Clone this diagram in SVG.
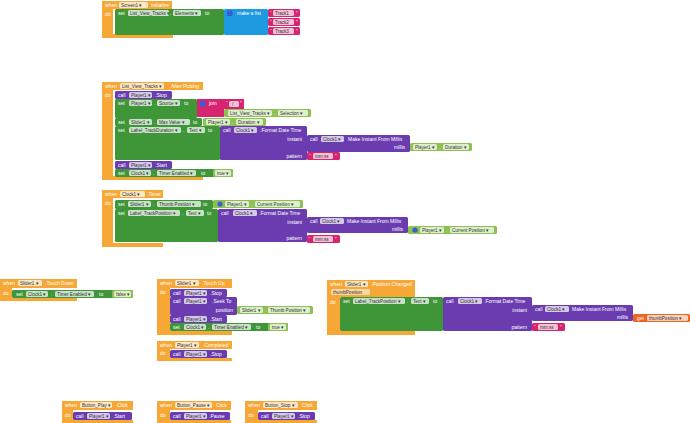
<svg xmlns="http://www.w3.org/2000/svg" width="690" height="423" viewBox="0 0 690 423">
<style>
.ev{fill:#F6A735}
.set{fill:#3E9638}
.get{fill:#8DC152}
.call{fill:#6A3CB0}
.txt{fill:#D62470}
.lst{fill:#1E9AE0}
.lv{fill:#F0641E}
.fld{fill:#fff;fill-opacity:.72}
.fo{fill:#FBD9A6}
.t{font-family:"Liberation Sans",Arial,sans-serif;font-size:5px;fill:#fff}
.f{font-family:"Liberation Sans",Arial,sans-serif;font-size:4.6px;fill:#333}
.r{text-anchor:end}
.ic{fill:#3D5AD8}
</style>
<rect width="690" height="423" fill="#fff"/>
<g id="connectors"/>

<g id="screen1-initialize">
<path class="ev" d="M102,1 H172 V9 H113 V34 H173 V38 H102 Z"/>
<text class="t" x="105" y="7">when</text>
<rect class="fld" x="119" y="2" width="29" height="6" rx="1.5"/><text class="f" x="121" y="6.8">Screen1 ▾</text>
<text class="t" x="151" y="7">Initialize</text>
<text class="t" x="105" y="16">do</text>
<rect class="set" x="115" y="9" width="109" height="26" rx="1.5"/>
<text class="t" x="118" y="15">set</text>
<rect class="fld" x="128" y="10" width="41" height="6" rx="1.5"/><text class="f" x="130" y="14.8">List_View_Tracks ▾</text>
<text class="t" x="170" y="15">.</text>
<rect class="fld" x="173" y="10" width="28" height="6" rx="1.5"/><text class="f" x="175" y="14.8">Elements ▾</text>
<text class="t" x="205" y="15">to</text>
<rect class="lst" x="224" y="9" width="44" height="26" rx="1.5"/>
<rect class="ic" x="227" y="10.5" width="5.5" height="5.5" rx="1"/>
<text class="t" x="237" y="15">make a list</text>
<rect class="txt" x="268" y="9" width="32" height="8" rx="1.5"/>
<text class="t" x="270" y="14.5">“</text><rect class="fld" x="273" y="10" width="21" height="6" rx="1.5"/><text class="f" x="275" y="14.8">Track1</text><text class="t" x="296" y="14.5">”</text>
<rect class="txt" x="268" y="18" width="32" height="8" rx="1.5"/>
<text class="t" x="270" y="23.5">“</text><rect class="fld" x="273" y="19" width="21" height="6" rx="1.5"/><text class="f" x="275" y="23.8">Track2</text><text class="t" x="296" y="23.5">”</text>
<rect class="txt" x="268" y="27" width="32" height="8" rx="1.5"/>
<text class="t" x="270" y="32.5">“</text><rect class="fld" x="273" y="28" width="21" height="6" rx="1.5"/><text class="f" x="275" y="32.8">Track3</text><text class="t" x="296" y="32.5">”</text>
</g>

<g id="list-view-after-picking">
<path class="ev" d="M102,82 H203 V90 H113 V176 H203 V180 H102 Z"/>
<text class="t" x="105" y="88">when</text>
<rect class="fld" x="120" y="83" width="44" height="6" rx="1.5"/><text class="f" x="122" y="87.8">List_View_Tracks ▾</text>
<text class="t" x="171" y="88">After Picking</text>
<text class="t" x="105" y="97">do</text>
<rect class="call" x="115" y="91" width="57" height="8" rx="1.5"/>
<text class="t" x="118" y="97">call</text>
<rect class="fld" x="129" y="92" width="23" height="6" rx="1.5"/><text class="f" x="131" y="96.8">Player1 ▾</text>
<text class="t" x="155" y="97">.Stop</text>
<rect class="set" x="115" y="99" width="82" height="19" rx="1.5"/>
<text class="t" x="118" y="105">set</text>
<rect class="fld" x="129" y="100" width="23" height="6" rx="1.5"/><text class="f" x="131" y="104.8">Player1 ▾</text>
<text class="t" x="154" y="105">.</text>
<rect class="fld" x="157" y="100" width="23" height="6" rx="1.5"/><text class="f" x="159" y="104.8">Source ▾</text>
<text class="t" x="184" y="105">to</text>
<path class="txt" d="M197,99 H244 V109 H224 V117 H197 Z"/>
<rect class="ic" x="200" y="101" width="5.5" height="5.5" rx="1"/>
<text class="t" x="209" y="105">join</text>
<text class="t" x="226" y="105">“</text><rect class="fld" x="229" y="101" width="10" height="6" rx="1.5"/><text class="f" x="232" y="105.8">/</text><text class="t" x="240" y="105">”</text>
<rect class="get" x="224" y="109" width="87" height="8" rx="1.5"/>
<rect class="fld" x="228" y="110" width="44" height="6" rx="1.5"/><text class="f" x="230" y="114.8">List_View_Tracks ▾</text>
<text class="t" x="274" y="115">.</text>
<rect class="fld" x="278" y="110" width="30" height="6" rx="1.5"/><text class="f" x="280" y="114.8">Selection ▾</text>
<rect class="set" x="115" y="118" width="87" height="8" rx="1.5"/>
<text class="t" x="118" y="124">set</text>
<rect class="fld" x="129" y="119" width="23" height="6" rx="1.5"/><text class="f" x="131" y="123.8">Slider1 ▾</text>
<text class="t" x="154" y="124">.</text>
<rect class="fld" x="157" y="119" width="33" height="6" rx="1.5"/><text class="f" x="159" y="123.8">Max Value ▾</text>
<text class="t" x="193" y="124">to</text>
<rect class="get" x="203" y="118" width="63" height="8" rx="1.5"/>
<rect class="fld" x="206" y="119" width="24" height="6" rx="1.5"/><text class="f" x="208" y="123.8">Player1 ▾</text>
<text class="t" x="232" y="124">.</text>
<rect class="fld" x="236" y="119" width="27" height="6" rx="1.5"/><text class="f" x="238" y="123.8">Duration ▾</text>
<rect class="set" x="115" y="126" width="105" height="34" rx="1.5"/>
<text class="t" x="118" y="132">set</text>
<rect class="fld" x="129" y="127" width="52" height="6" rx="1.5"/><text class="f" x="131" y="131.8">Label_TrackDuration ▾</text>
<text class="t" x="183" y="132">.</text>
<rect class="fld" x="187" y="127" width="18" height="6" rx="1.5"/><text class="f" x="189" y="131.8">Text ▾</text>
<text class="t" x="208" y="132">to</text>
<rect class="call" x="220" y="126" width="87" height="34" rx="1.5"/>
<text class="t" x="223" y="132">call</text>
<rect class="fld" x="234" y="127" width="23" height="6" rx="1.5"/><text class="f" x="236" y="131.8">Clock1 ▾</text>
<text class="t" x="260" y="132">.Format Date Time</text>
<text class="t r" x="302" y="141">instant</text>
<text class="t r" x="302" y="158">pattern</text>
<rect class="call" x="307" y="135" width="103" height="17" rx="1.5"/>
<text class="t" x="310" y="141">call</text>
<rect class="fld" x="321" y="136" width="23" height="6" rx="1.5"/><text class="f" x="323" y="140.8">Clock1 ▾</text>
<text class="t" x="348" y="141">Make Instant From Millis</text>
<text class="t r" x="405" y="149">millis</text>
<rect class="get" x="410" y="143" width="62" height="8" rx="1.5"/>
<rect class="fld" x="413" y="144" width="24" height="6" rx="1.5"/><text class="f" x="415" y="148.8">Player1 ▾</text>
<text class="t" x="439" y="149">.</text>
<rect class="fld" x="443" y="144" width="26" height="6" rx="1.5"/><text class="f" x="445" y="148.8">Duration ▾</text>
<rect class="txt" x="307" y="152" width="33" height="8" rx="1.5"/>
<text class="t" x="309" y="157.5">“</text><rect class="fld" x="313" y="153" width="20" height="6" rx="1.5"/><text class="f" x="315" y="157.8">mm:ss</text><text class="t" x="335" y="157.5">”</text>
<rect class="call" x="115" y="161" width="57" height="8" rx="1.5"/>
<text class="t" x="118" y="167">call</text>
<rect class="fld" x="129" y="162" width="23" height="6" rx="1.5"/><text class="f" x="131" y="166.8">Player1 ▾</text>
<text class="t" x="155" y="167">.Start</text>
<rect class="set" x="115" y="169" width="118" height="8" rx="1.5"/>
<text class="t" x="118" y="175">set</text>
<rect class="fld" x="129" y="170" width="22" height="6" rx="1.5"/><text class="f" x="131" y="174.8">Clock1 ▾</text>
<text class="t" x="153" y="175">.</text>
<rect class="fld" x="157" y="170" width="39" height="6" rx="1.5"/><text class="f" x="159" y="174.8">Timer Enabled ▾</text>
<text class="t" x="201" y="175">to</text>
<rect class="get" x="213" y="169" width="20" height="8" rx="1.5"/>
<rect class="fld" x="215" y="170" width="16" height="6" rx="1.5"/><text class="f" x="217" y="174.8">true ▾</text>
</g>

<g id="clock1-timer">
<path class="ev" d="M102,190 H163 V198 H113 V243 H163 V247 H102 Z"/>
<text class="t" x="105" y="196">when</text>
<rect class="fld" x="120" y="191" width="25" height="6" rx="1.5"/><text class="f" x="122" y="195.8">Clock1 ▾</text>
<text class="t" x="147" y="196">.Timer</text>
<text class="t" x="105" y="205">do</text>
<rect class="set" x="115" y="200" width="98" height="9" rx="1.5"/>
<text class="t" x="118" y="206">set</text>
<rect class="fld" x="128" y="201" width="23" height="6" rx="1.5"/><text class="f" x="130" y="205.8">Slider1 ▾</text>
<text class="t" x="153" y="206">.</text>
<rect class="fld" x="157" y="201" width="44" height="6" rx="1.5"/><text class="f" x="159" y="205.8">Thumb Position ▾</text>
<text class="t" x="203" y="206">to</text>
<rect class="get" x="213" y="200" width="90" height="8" rx="1.5"/>
<circle class="ic" cx="220" cy="204" r="2.6"/>
<rect class="fld" x="225" y="201" width="24" height="6" rx="1.5"/><text class="f" x="227" y="205.8">Player1 ▾</text>
<text class="t" x="251" y="206">.</text>
<rect class="fld" x="255" y="201" width="45" height="6" rx="1.5"/><text class="f" x="257" y="205.8">Current Position ▾</text>
<rect class="set" x="115" y="209" width="103" height="33" rx="1.5"/>
<text class="t" x="118" y="215">set</text>
<rect class="fld" x="128" y="210" width="52" height="6" rx="1.5"/><text class="f" x="130" y="214.8">Label_TrackPosition ▾</text>
<text class="t" x="182" y="215">.</text>
<rect class="fld" x="186" y="210" width="18" height="6" rx="1.5"/><text class="f" x="188" y="214.8">Text ▾</text>
<text class="t" x="207" y="215">to</text>
<rect class="call" x="218" y="209" width="89" height="33" rx="1.5"/>
<text class="t" x="221" y="215">call</text>
<rect class="fld" x="233" y="210" width="24" height="6" rx="1.5"/><text class="f" x="235" y="214.8">Clock1 ▾</text>
<text class="t" x="259" y="215">.Format Date Time</text>
<text class="t r" x="302" y="224">instant</text>
<text class="t r" x="302" y="240">pattern</text>
<rect class="call" x="307" y="217" width="101" height="16" rx="1.5"/>
<text class="t" x="310" y="223">call</text>
<rect class="fld" x="320" y="218" width="24" height="6" rx="1.5"/><text class="f" x="322" y="222.8">Clock1 ▾</text>
<text class="t" x="347" y="223">Make Instant From Millis</text>
<text class="t r" x="403" y="231">millis</text>
<rect class="get" x="408" y="226" width="89" height="8" rx="1.5"/>
<circle class="ic" cx="415" cy="230" r="2.6"/>
<rect class="fld" x="420" y="227" width="24" height="6" rx="1.5"/><text class="f" x="422" y="231.8">Player1 ▾</text>
<text class="t" x="446" y="232">.</text>
<rect class="fld" x="450" y="227" width="44" height="6" rx="1.5"/><text class="f" x="452" y="231.8">Current Position ▾</text>
<rect class="txt" x="307" y="235" width="33" height="8" rx="1.5"/>
<text class="t" x="309" y="240.5">“</text><rect class="fld" x="313" y="236" width="20" height="6" rx="1.5"/><text class="f" x="315" y="240.8">mm:ss</text><text class="t" x="335" y="240.5">”</text>
</g>

<g id="slider1-touch-down">
<path class="ev" d="M0,279 H77 V288 H12 V298 H77 V301 H0 Z"/>
<text class="t" x="3" y="285">when</text>
<rect class="fld" x="18" y="280" width="24" height="6" rx="1.5"/><text class="f" x="20" y="284.8">Slider1 ▾</text>
<text class="t" x="45" y="285">.Touch Down</text>
<text class="t" x="3" y="295">do</text>
<rect class="set" x="12" y="290" width="121" height="8" rx="1.5"/>
<text class="t" x="16" y="296">set</text>
<rect class="fld" x="26" y="291" width="22" height="6" rx="1.5"/><text class="f" x="28" y="295.8">Clock1 ▾</text>
<text class="t" x="51" y="296">.</text>
<rect class="fld" x="55" y="291" width="39" height="6" rx="1.5"/><text class="f" x="57" y="295.8">Timer Enabled ▾</text>
<text class="t" x="99" y="296">to</text>
<rect class="get" x="112" y="290" width="21" height="8" rx="1.5"/>
<rect class="fld" x="114" y="291" width="17" height="6" rx="1.5"/><text class="f" x="116" y="295.8">false ▾</text>
</g>

<g id="slider1-touch-up">
<path class="ev" d="M157,279 H232 V288 H170 V331 H232 V335 H157 Z"/>
<text class="t" x="160" y="285">when</text>
<rect class="fld" x="175" y="280" width="24" height="6" rx="1.5"/><text class="f" x="177" y="284.8">Slider1 ▾</text>
<text class="t" x="202" y="285">.Touch Up</text>
<text class="t" x="160" y="294">do</text>
<rect class="call" x="170" y="289" width="57" height="8" rx="1.5"/>
<text class="t" x="173" y="295">call</text>
<rect class="fld" x="184" y="290" width="23" height="6" rx="1.5"/><text class="f" x="186" y="294.8">Player1 ▾</text>
<text class="t" x="210" y="295">.Stop</text>
<rect class="call" x="170" y="297" width="67" height="18" rx="1.5"/>
<text class="t" x="173" y="303">call</text>
<rect class="fld" x="184" y="298" width="23" height="6" rx="1.5"/><text class="f" x="186" y="302.8">Player1 ▾</text>
<text class="t" x="212" y="303">.Seek To</text>
<text class="t r" x="233" y="312">position</text>
<rect class="get" x="237" y="306" width="76" height="8" rx="1.5"/>
<rect class="fld" x="240" y="307" width="23" height="6" rx="1.5"/><text class="f" x="242" y="311.8">Slider1 ▾</text>
<text class="t" x="265" y="312">.</text>
<rect class="fld" x="268" y="307" width="42" height="6" rx="1.5"/><text class="f" x="270" y="311.8">Thumb Position ▾</text>
<rect class="call" x="170" y="315" width="57" height="8" rx="1.5"/>
<text class="t" x="173" y="321">call</text>
<rect class="fld" x="184" y="316" width="23" height="6" rx="1.5"/><text class="f" x="186" y="320.8">Player1 ▾</text>
<text class="t" x="210" y="321">.Start</text>
<rect class="set" x="170" y="323" width="118" height="8" rx="1.5"/>
<text class="t" x="173" y="329">set</text>
<rect class="fld" x="184" y="324" width="22" height="6" rx="1.5"/><text class="f" x="186" y="328.8">Clock1 ▾</text>
<text class="t" x="208" y="329">.</text>
<rect class="fld" x="212" y="324" width="39" height="6" rx="1.5"/><text class="f" x="214" y="328.8">Timer Enabled ▾</text>
<text class="t" x="256" y="329">to</text>
<rect class="get" x="268" y="323" width="20" height="8" rx="1.5"/>
<rect class="fld" x="270" y="324" width="16" height="6" rx="1.5"/><text class="f" x="272" y="328.8">true ▾</text>
</g>

<g id="player1-completed">
<path class="ev" d="M157,341 H232 V349 H170 V358 H232 V361 H157 Z"/>
<text class="t" x="160" y="347">when</text>
<rect class="fld" x="175" y="342" width="24" height="6" rx="1.5"/><text class="f" x="177" y="346.8">Player1 ▾</text>
<text class="t" x="203" y="347">.Completed</text>
<text class="t" x="160" y="355">do</text>
<rect class="call" x="170" y="350" width="57" height="8" rx="1.5"/>
<text class="t" x="173" y="356">call</text>
<rect class="fld" x="184" y="351" width="23" height="6" rx="1.5"/><text class="f" x="186" y="355.8">Player1 ▾</text>
<text class="t" x="210" y="356">.Stop</text>
</g>

<g id="slider1-position-changed">
<path class="ev" d="M327,280 H415 V297 H340 V331 H415 V335 H327 Z"/>
<text class="t" x="330" y="286">when</text>
<rect class="fld" x="345" y="281" width="23" height="6" rx="1.5"/><text class="f" x="347" y="285.8">Slider1 ▾</text>
<text class="t" x="371" y="286">.Position Changed</text>
<rect class="fo" x="331" y="289" width="39" height="6" rx="1.5"/><text class="f" x="333" y="293.8">thumbPosition</text>
<text class="t" x="330" y="304">do</text>
<rect class="set" x="340" y="297" width="103" height="34" rx="1.5"/>
<text class="t" x="343" y="303">set</text>
<rect class="fld" x="353" y="298" width="52" height="6" rx="1.5"/><text class="f" x="355" y="302.8">Label_TrackPosition ▾</text>
<text class="t" x="407" y="303">.</text>
<rect class="fld" x="411" y="298" width="18" height="6" rx="1.5"/><text class="f" x="413" y="302.8">Text ▾</text>
<text class="t" x="433" y="303">to</text>
<rect class="call" x="443" y="297" width="89" height="34" rx="1.5"/>
<text class="t" x="446" y="303">call</text>
<rect class="fld" x="458" y="298" width="24" height="6" rx="1.5"/><text class="f" x="460" y="302.8">Clock1 ▾</text>
<text class="t" x="484" y="303">.Format Date Time</text>
<text class="t r" x="527" y="312">instant</text>
<text class="t r" x="527" y="329">pattern</text>
<rect class="call" x="532" y="305" width="101" height="16" rx="1.5"/>
<text class="t" x="535" y="311">call</text>
<rect class="fld" x="545" y="306" width="24" height="6" rx="1.5"/><text class="f" x="547" y="310.8">Clock1 ▾</text>
<text class="t" x="572" y="311">Make Instant From Millis</text>
<text class="t r" x="628" y="319">millis</text>
<rect class="lv" x="633" y="314" width="57" height="8" rx="1.5"/>
<text class="t" x="637" y="320">get</text>
<rect class="fld" x="647" y="315" width="41" height="6" rx="1.5"/><text class="f" x="649" y="319.8">thumbPosition ▾</text>
<rect class="txt" x="532" y="323" width="33" height="8" rx="1.5"/>
<text class="t" x="534" y="328.5">“</text><rect class="fld" x="538" y="324" width="20" height="6" rx="1.5"/><text class="f" x="540" y="328.8">mm:ss</text><text class="t" x="560" y="328.5">”</text>
</g>

<g id="button-play-click">
<path class="ev" d="M62,401 H133 V410 H73 V420 H133 V423 H62 Z"/>
<text class="t" x="65" y="407">when</text>
<rect class="fld" x="80" y="402" width="32" height="6" rx="1.5"/><text class="f" x="82" y="406.8">Button_Play ▾</text>
<text class="t" x="117" y="407">Click</text>
<text class="t" x="65" y="417">do</text>
<rect class="call" x="73" y="412" width="59" height="8" rx="1.5"/>
<text class="t" x="76" y="418">call</text>
<rect class="fld" x="87" y="413" width="23" height="6" rx="1.5"/><text class="f" x="89" y="417.8">Player1 ▾</text>
<text class="t" x="113" y="418">.Start</text>
</g>

<g id="button-pause-click">
<path class="ev" d="M157,401 H231 V410 H170 V420 H231 V423 H157 Z"/>
<text class="t" x="160" y="407">when</text>
<rect class="fld" x="175" y="402" width="37" height="6" rx="1.5"/><text class="f" x="177" y="406.8">Button_Pause ▾</text>
<text class="t" x="216" y="407">Click</text>
<text class="t" x="160" y="417">do</text>
<rect class="call" x="170" y="412" width="60" height="8" rx="1.5"/>
<text class="t" x="173" y="418">call</text>
<rect class="fld" x="184" y="413" width="23" height="6" rx="1.5"/><text class="f" x="186" y="417.8">Player1 ▾</text>
<text class="t" x="209" y="418">.Pause</text>
</g>

<g id="button-stop-click">
<path class="ev" d="M245,401 H317 V410 H258 V420 H317 V423 H245 Z"/>
<text class="t" x="248" y="407">when</text>
<rect class="fld" x="263" y="402" width="35" height="6" rx="1.5"/><text class="f" x="265" y="406.8">Button_Stop ▾</text>
<text class="t" x="302" y="407">Click</text>
<text class="t" x="248" y="417">do</text>
<rect class="call" x="258" y="412" width="57" height="8" rx="1.5"/>
<text class="t" x="261" y="418">call</text>
<rect class="fld" x="272" y="413" width="23" height="6" rx="1.5"/><text class="f" x="274" y="417.8">Player1 ▾</text>
<text class="t" x="298" y="418">.Stop</text>
</g>
</svg>
